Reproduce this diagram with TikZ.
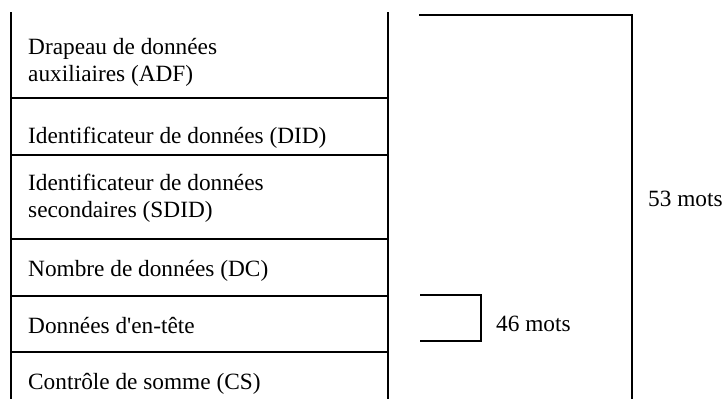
\documentclass[tikz,border=0pt]{standalone}
\usepackage{fontspec}
\setmainfont{Liberation Serif}[Ligatures=TeXOff]
\begin{document}
\begin{tikzpicture}[x=1pt,y=-1pt,
  line/.style={line width=2pt,line cap=rect},
  lbl/.style={anchor=base west,inner sep=0pt,font=\fontsize{23.3}{26.5}\selectfont,align=left}]
\useasboundingbox (0,0) rectangle (726,399);
% column
\coordinate (tl) at (11,13);
\coordinate (tr) at (388,13);
\coordinate (bl) at (11,399);
\coordinate (br) at (388,399);
\draw[line] (tl) -- (bl);
\draw[line] (tr) -- (br);
\foreach \y/\n in {98/a,155/b,239/c,296/d,352/e}{
  \coordinate (l\n) at (11,\y);
  \coordinate (r\n) at (388,\y);
  \draw[line] (l\n) -- (r\n);
}
\node[lbl] (adf) at (28,81) {Drapeau de données\\auxiliaires (ADF)};
\node[lbl] (did) at (28,143) {Identificateur de données (DID)};
\node[lbl] (sdid) at (28,217) {Identificateur de données\\secondaires (SDID)};
\node[lbl] (dc) at (28,276) {Nombre de données (DC)};
\node[lbl] (hd) at (28,333) {Données d'en-tête};
\node[lbl] (cs) at (28,389) {Contrôle de somme (CS)};
% big bracket
\coordinate (b1) at (420,15);
\coordinate (b2) at (632,15);
\coordinate (b3) at (632,399);
\draw[line] (b1) -- (b2) -- (b3);
\node[lbl] (m53) at (648,206) {53 mots};
% small bracket
\coordinate (s1) at (421,295);
\coordinate (s2) at (481,295);
\coordinate (s3) at (481,341);
\coordinate (s4) at (421,341);
\draw[line] (s1) -- (s2) -- (s3) -- (s4);
\node[lbl] (m46) at (496,331) {46 mots};
\end{tikzpicture}
\end{document}
